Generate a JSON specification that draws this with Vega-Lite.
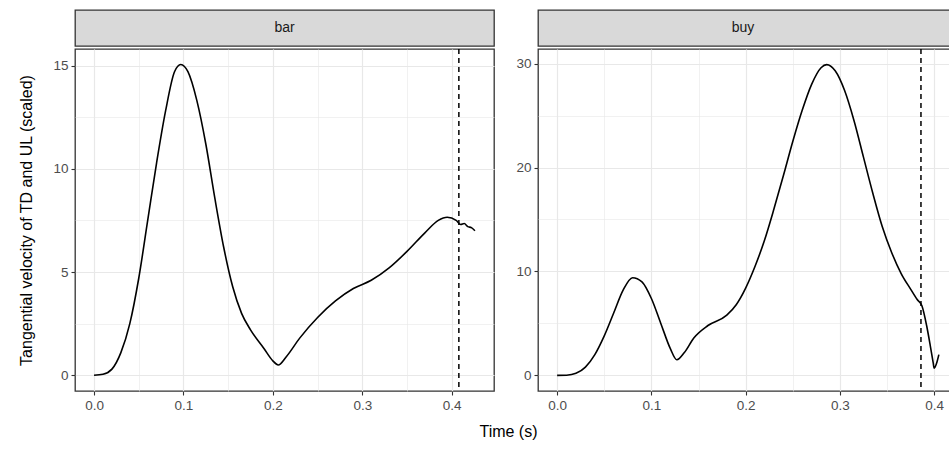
{
  "$schema": "https://vega.github.io/schema/vega-lite/v6.json",
  "background": "white",
  "padding": {"left": 18, "top": 9, "right": 0, "bottom": 0},
  "datasets": {
    "bar": [
      {"t": 0, "v": 0}, {"t": 0.01, "v": 0.05}, {"t": 0.02, "v": 0.3}, {"t": 0.03, "v": 1.1},
      {"t": 0.04, "v": 2.5}, {"t": 0.05, "v": 4.7}, {"t": 0.06, "v": 7.5}, {"t": 0.07, "v": 10.3},
      {"t": 0.08, "v": 12.8}, {"t": 0.09, "v": 14.7}, {"t": 0.097, "v": 15.05}, {"t": 0.105, "v": 14.7},
      {"t": 0.115, "v": 13.3}, {"t": 0.125, "v": 11.2}, {"t": 0.135, "v": 8.6}, {"t": 0.145, "v": 6.2},
      {"t": 0.155, "v": 4.3}, {"t": 0.165, "v": 3.0}, {"t": 0.175, "v": 2.2}, {"t": 0.19, "v": 1.3},
      {"t": 0.2, "v": 0.7}, {"t": 0.206, "v": 0.5}, {"t": 0.215, "v": 0.9}, {"t": 0.23, "v": 1.8},
      {"t": 0.25, "v": 2.8}, {"t": 0.27, "v": 3.6}, {"t": 0.29, "v": 4.2}, {"t": 0.31, "v": 4.6},
      {"t": 0.33, "v": 5.2}, {"t": 0.35, "v": 6.0}, {"t": 0.37, "v": 6.9}, {"t": 0.385, "v": 7.5},
      {"t": 0.395, "v": 7.65}, {"t": 0.405, "v": 7.5}, {"t": 0.41, "v": 7.3}, {"t": 0.414, "v": 7.35},
      {"t": 0.418, "v": 7.2}, {"t": 0.422, "v": 7.15}, {"t": 0.426, "v": 7.0}
    ],
    "buy": [
      {"t": 0, "v": 0}, {"t": 0.01, "v": 0.02}, {"t": 0.02, "v": 0.2}, {"t": 0.03, "v": 0.8},
      {"t": 0.04, "v": 2.0}, {"t": 0.05, "v": 3.8}, {"t": 0.06, "v": 6.0}, {"t": 0.07, "v": 8.2},
      {"t": 0.08, "v": 9.4}, {"t": 0.09, "v": 9.0}, {"t": 0.1, "v": 7.4}, {"t": 0.11, "v": 5.0},
      {"t": 0.12, "v": 2.6}, {"t": 0.127, "v": 1.5}, {"t": 0.135, "v": 2.2}, {"t": 0.145, "v": 3.6},
      {"t": 0.16, "v": 4.8}, {"t": 0.18, "v": 5.8}, {"t": 0.19, "v": 6.8}, {"t": 0.2, "v": 8.4},
      {"t": 0.21, "v": 10.5}, {"t": 0.22, "v": 13.0}, {"t": 0.23, "v": 16.0}, {"t": 0.24, "v": 19.2},
      {"t": 0.25, "v": 22.5}, {"t": 0.26, "v": 25.5}, {"t": 0.27, "v": 28.0}, {"t": 0.28, "v": 29.6},
      {"t": 0.286, "v": 29.9}, {"t": 0.295, "v": 29.3}, {"t": 0.305, "v": 27.4}, {"t": 0.315, "v": 24.5},
      {"t": 0.325, "v": 21.0}, {"t": 0.335, "v": 17.5}, {"t": 0.345, "v": 14.3}, {"t": 0.355, "v": 11.8},
      {"t": 0.365, "v": 9.8}, {"t": 0.375, "v": 8.3}, {"t": 0.382, "v": 7.3}, {"t": 0.387, "v": 6.7},
      {"t": 0.392, "v": 4.8}, {"t": 0.396, "v": 2.8}, {"t": 0.399, "v": 1.2}, {"t": 0.4, "v": 0.7},
      {"t": 0.403, "v": 1.3}, {"t": 0.405, "v": 2.0}
    ],
    "barCut": [{"t": 0.408}],
    "buyCut": [{"t": 0.386}]
  },
  "title": {"text": "Time (s)", "orient": "bottom", "anchor": "middle", "fontSize": 16, "fontWeight": "normal", "font": "Liberation Sans", "color": "black", "offset": 12, "dx": 20},
  "hconcat": [
    {
      "spacing": 0,
      "vconcat": [
        {
          "width": 419, "height": 36,
          "data": {"values": [{"label": "bar"}]},
          "mark": {"type": "text", "fontSize": 14, "font": "Liberation Sans", "color": "#1a1a1a"},
          "encoding": {"text": {"field": "label"}},
          "view": {"fill": "#d9d9d9", "stroke": "#333333", "strokeWidth": 1.3}
        },
        {
          "width": 419, "height": 342,
          "resolve": {"axis": {"x": "independent", "y": "independent"}},
          "layer": [
            {
              "data": {"name": "bar"},
              "mark": {"type": "point", "opacity": 0},
              "encoding": {
                "x": {"field": "t", "type": "quantitative", "scale": {"domain": [-0.0213, 0.4473], "nice": false, "zero": false},
                  "axis": {"orient": "top", "values": [0.05, 0.15, 0.25, 0.35], "labels": false, "ticks": false, "title": null, "grid": true, "gridWidth": 0.6}},
                "y": {"field": "v", "type": "quantitative", "scale": {"domain": [-0.76, 15.8], "nice": false},
                  "axis": {"orient": "right", "values": [2.5, 7.5, 12.5], "labels": false, "ticks": false, "title": null, "grid": true, "gridWidth": 0.6}}
              }
            },
            {
              "data": {"name": "bar"},
              "mark": {"type": "line", "color": "black", "strokeWidth": 1.6, "interpolate": "monotone", "clip": true},
              "encoding": {
                "x": {"field": "t", "type": "quantitative",
                  "axis": {"values": [0, 0.1, 0.2, 0.3, 0.4], "format": ".1f", "title": null, "grid": true}},
                "y": {"field": "v", "type": "quantitative",
                  "axis": {"values": [0, 5, 10, 15], "title": "Tangential velocity of TD and UL (scaled)", "titlePadding": 18, "grid": true}}
              }
            },
            {
              "data": {"name": "barCut"},
              "mark": {"type": "rule", "color": "black", "strokeDash": [5, 4], "strokeWidth": 1.5},
              "encoding": {"x": {"field": "t", "type": "quantitative", "axis": null}}
            }
          ]
        }
      ]
    },
    {
      "spacing": 0,
      "vconcat": [
        {
          "width": 420, "height": 36,
          "data": {"values": [{"label": "buy"}]},
          "mark": {"type": "text", "fontSize": 14, "font": "Liberation Sans", "color": "#1a1a1a", "dx": -5},
          "encoding": {"text": {"field": "label"}},
          "view": {"fill": "#d9d9d9", "stroke": "#333333", "strokeWidth": 1.3}
        },
        {
          "width": 420, "height": 342,
          "resolve": {"axis": {"x": "independent", "y": "independent"}},
          "layer": [
            {
              "data": {"name": "buy"},
              "mark": {"type": "point", "opacity": 0},
              "encoding": {
                "x": {"field": "t", "type": "quantitative", "scale": {"domain": [-0.0203, 0.4253], "nice": false, "zero": false},
                  "axis": {"orient": "top", "values": [0.05, 0.15, 0.25, 0.35], "labels": false, "ticks": false, "title": null, "grid": true, "gridWidth": 0.6}},
                "y": {"field": "v", "type": "quantitative", "scale": {"domain": [-1.5, 31.4], "nice": false},
                  "axis": {"orient": "right", "values": [5, 15, 25], "labels": false, "ticks": false, "title": null, "grid": true, "gridWidth": 0.6}}
              }
            },
            {
              "data": {"name": "buy"},
              "mark": {"type": "line", "color": "black", "strokeWidth": 1.6, "interpolate": "monotone", "clip": true},
              "encoding": {
                "x": {"field": "t", "type": "quantitative",
                  "axis": {"values": [0, 0.1, 0.2, 0.3, 0.4], "format": ".1f", "title": null, "grid": true}},
                "y": {"field": "v", "type": "quantitative",
                  "axis": {"values": [0, 10, 20, 30], "title": null, "grid": true}}
              }
            },
            {
              "data": {"name": "buyCut"},
              "mark": {"type": "rule", "color": "black", "strokeDash": [5, 4], "strokeWidth": 1.5},
              "encoding": {"x": {"field": "t", "type": "quantitative", "axis": null}}
            }
          ]
        }
      ]
    }
  ],
  "spacing": 20,
  "config": {
    "font": "Liberation Sans",
    "view": {"stroke": "#333333", "strokeWidth": 1.3},
    "axis": {
      "labelFont": "Liberation Sans", "labelFontSize": 13.5, "labelColor": "#4d4d4d",
      "titleFont": "Liberation Sans", "titleFontSize": 16, "titleFontWeight": "normal", "titleColor": "black",
      "tickColor": "#333333", "tickSize": 4, "tickWidth": 1.1, "domain": false,
      "gridColor": "#e8e8e8", "gridWidth": 1.2, "labelPadding": 3
    }
  }
}
